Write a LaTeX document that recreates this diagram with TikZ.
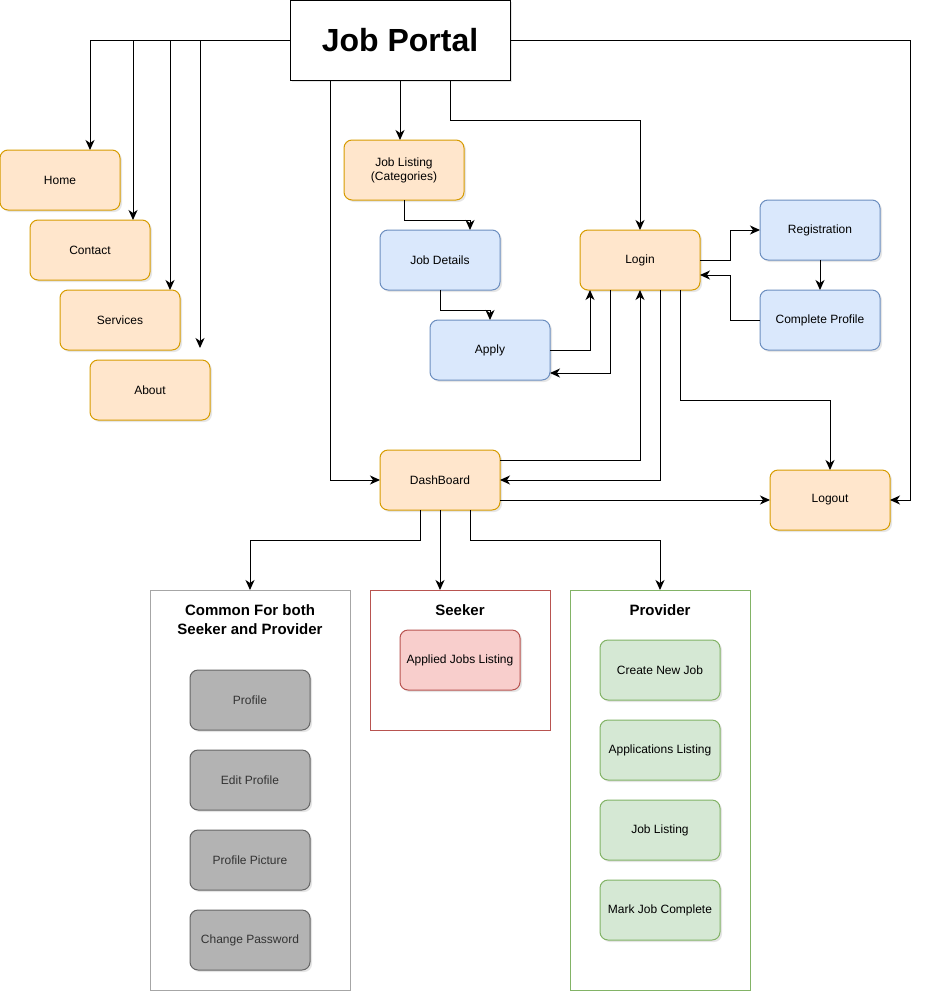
\documentclass[tikz,border=0pt]{standalone}
\usepackage{fontspec}
\setmainfont{Liberation Sans}
\usetikzlibrary{arrows.meta,shadows}

\definecolor{orangefill}{HTML}{FFE6CC}
\definecolor{orangeline}{HTML}{D79B00}
\definecolor{bluefill}{HTML}{DAE8FC}
\definecolor{blueline}{HTML}{6C8EBF}
\definecolor{greenfill}{HTML}{D5E8D4}
\definecolor{greenline}{HTML}{82B366}
\definecolor{redfill}{HTML}{F8CECC}
\definecolor{redline}{HTML}{B85450}
\definecolor{grayfill}{HTML}{B3B3B3}
\definecolor{grayline}{HTML}{666666}
\definecolor{graytext}{HTML}{333333}
\definecolor{groupline}{HTML}{A6A6A6}

\begin{document}
\begin{tikzpicture}[
    x = 1pt, y = -1pt,
    box/.style = {draw, rounded corners = 8pt, line width = 1pt, outer sep = 0pt,
        minimum width = 120pt, minimum height = 60pt, align = center,
        font = \fontsize{12pt}{14pt}\selectfont,
        drop shadow = {opacity = 0.2, shadow xshift = 2pt, shadow yshift = -2pt}},
    orangebox/.style = {box, fill = orangefill, draw = orangeline},
    bluebox/.style = {box, fill = bluefill, draw = blueline},
    greenbox/.style = {box, fill = greenfill, draw = greenline},
    redbox/.style = {box, fill = redfill, draw = redline},
    graybox/.style = {box, fill = grayfill, draw = grayline, text = graytext},
    group/.style = {draw, line width = 1pt, outer sep = 0pt, fill = white, minimum width = 180pt},
    grouptitle/.style = {align = center, font = \fontsize{15pt}{19pt}\selectfont\bfseries},
    arr/.style = {-{Stealth[length = 10pt, width = 9pt, inset = 3pt]}, line width = 1pt}
]
\useasboundingbox (0,0) rectangle (931,1002);

% top
\node[draw, line width = 1pt, outer sep = 0pt, fill = white, minimum width = 220pt, minimum height = 80pt,
    font = \fontsize{32pt}{38pt}\selectfont\bfseries,
    drop shadow = {opacity = 0.2, shadow xshift = 2pt, shadow yshift = -2pt}] (portal) at (400,40) {Job Portal};

% left menu
\node[orangebox] (home) at (60,180) {Home};
\node[orangebox] (contact) at (90,250) {Contact};
\node[orangebox] (services) at (120,320) {Services};
\node[orangebox] (about) at (150,390) {About};
\coordinate (aboutend) at (200,348);

% middle
\node[orangebox] (joblist) at (404,170) {Job Listing\\(Categories)};
\node[bluebox] (jobdet) at (440,260) {Job Details};
\node[bluebox] (apply) at (490,350) {Apply};
\node[orangebox] (login) at (640,260) {Login};
\node[bluebox] (reg) at (820,230) {Registration};
\node[bluebox] (cp) at (820,320) {Complete Profile};
\node[orangebox] (dash) at (440,480) {DashBoard};
\node[orangebox] (logout) at (830,500) {Logout};

% groups
\node[group, draw = groupline, minimum width = 200pt, minimum height = 400pt] (common) at (250,790) {};
\node[grouptitle] at ([yshift = -30pt]common.north) {Common For both\\Seeker and Provider};
\node[group, draw = redline, minimum height = 140pt] (seeker) at (460,660) {};
\node[grouptitle] at ([yshift = -20pt]seeker.north) {Seeker};
\node[group, draw = greenline, minimum height = 400pt] (provider) at (660,790) {};
\node[grouptitle] at ([yshift = -20pt]provider.north) {Provider};

\node[graybox] (profile) at (250,700) {Profile};
\node[graybox] (editprof) at (250,780) {Edit Profile};
\node[graybox] (profpic) at (250,860) {Profile Picture};
\node[graybox] (chpass) at (250,940) {Change Password};
\node[redbox] (applied) at (460,660) {Applied Jobs Listing};
\node[greenbox] (newjob) at (660,670) {Create New Job};
\node[greenbox] (applist) at (660,750) {Applications Listing};
\node[greenbox] (joblisting) at (660,830) {Job Listing};
\node[greenbox] (markjob) at (660,910) {Mark Job Complete};

% arrows
\draw[arr] (portal.west) -| ([xshift = 30pt]home.north);
\draw[arr] (portal.west) -| ([xshift = 43pt]contact.north);
\draw[arr] (portal.west) -| ([xshift = 50pt]services.north);
\draw[arr] (portal.west) -| (aboutend);
\draw[arr] (portal.east) -- ++(400,0) |- (logout.east);
\draw[arr] ([xshift = -70pt]portal.south) |- (dash.west);
\draw[arr] (portal.south) -- ([xshift = -4pt]joblist.north);
\draw[arr] ([xshift = 50pt]portal.south) -- ++(0,40) -| (login.north);
\draw[arr] (joblist.south) -- ++(0,20) -| ([xshift = 30pt]jobdet.north);
\draw[arr] (jobdet.south) -- ++(0,20) -| (apply.north);
\draw[arr] (apply.east) -| ([xshift = -50pt]login.south);
\draw[arr] ([xshift = -30pt]login.south) |- ([yshift = -23pt]apply.east);
\draw[arr] (login.east) -- ++(30,0) |- (reg.west);
\draw[arr] (reg.south) -- (cp.north);
\draw[arr] (cp.west) -- ++(-30,0) |- ([yshift = -15pt]login.east);
\draw[arr] ([xshift = 40pt]login.south) -- ++(0,110) -| (logout.north);
\draw[arr] ([yshift = 20pt]dash.east) -| (login.south);
\draw[arr] ([xshift = 20pt]login.south) |- (dash.east);
\draw[arr] ([yshift = -20pt]dash.east) -- (logout.west);
\draw[arr] ([xshift = -20pt]dash.south) -- ++(0,30) -| (common.north);
\draw[arr] (dash.south) -- (dash.south |- seeker.north);
\draw[arr] ([xshift = 30pt]dash.south) -- ++(0,30) -| (provider.north);

\end{tikzpicture}
\end{document}
